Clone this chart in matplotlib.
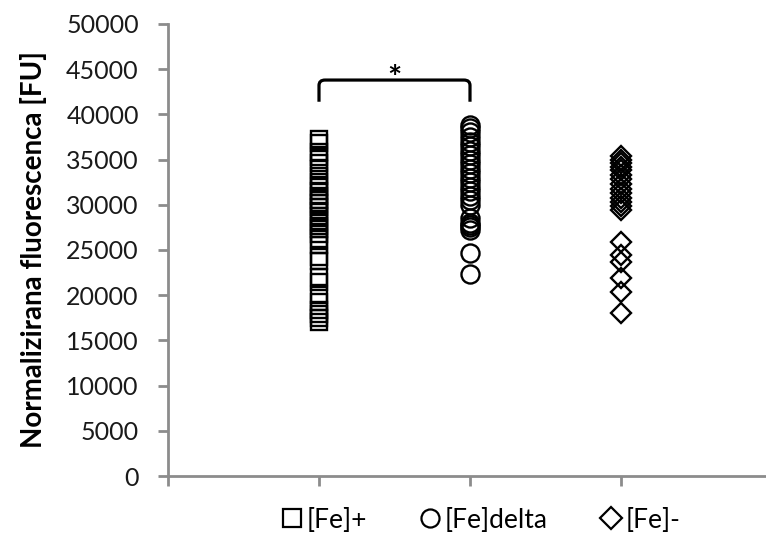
import matplotlib
matplotlib.use("Agg")
import matplotlib.pyplot as plt
from matplotlib.lines import Line2D
from matplotlib.path import Path
from matplotlib.patches import PathPatch

plt.rcParams['font.family'] = ['Lato', 'DejaVu Sans']

groups = ["[Fe]+", "[Fe]delta", "[Fe]-"]
group_pos = [1, 2, 3]

fe_plus = [37300, 36800, 35800, 35300, 34600, 34000, 33200, 32500, 32000, 31500,
           31000, 30500, 30200, 29800, 29300, 28800, 28200, 27600, 27300, 26800,
           26200, 25500, 24200, 23800, 22000, 21500, 20000, 19200, 18400, 17900,
           17500, 17000]
fe_delta = [38800, 38500, 38000, 37500, 37000, 36500, 36000, 35500, 35000, 34500,
            34000, 33500, 33000, 32500, 32000, 31500, 31000, 30500, 30000, 28500,
            28000, 27800, 27500, 27200, 24700, 22400]
fe_minus = [35400, 35000, 34600, 34200, 33800, 33300, 32800, 32300, 31800, 31300,
            30800, 30300, 29900, 29400, 25900, 24400, 23700, 21900, 20400, 18000]

series = [fe_plus, fe_delta, fe_minus]
markers = ["s", "o", "D"]
msizes = [12, 13, 10.5]

y_ticks = list(range(0, 50001, 5000))
sig_pair = (1, 2)
sig_low, sig_high = 41400, 43800

fig = plt.figure(figsize=(7.66, 5.33), dpi=100)
ax = fig.add_axes([168 / 766, 1 - 476 / 533, 604 / 766, 452 / 533])

for pos, vals, m, ms in zip(group_pos, series, markers, msizes):
    ax.plot([pos] * len(vals), vals, linestyle="none", marker=m, markersize=ms,
            markerfacecolor="none", markeredgecolor="black", markeredgewidth=1.7,
            clip_on=False)

# significance bracket with rounded corners
x0, x1 = sig_pair
r = 0.04
rv = 600
verts = [(x0, sig_low), (x0, sig_high - rv), (x0, sig_high), (x0 + r, sig_high),
         (x1 - r, sig_high), (x1, sig_high), (x1, sig_high - rv), (x1, sig_low)]
codes = [Path.MOVETO, Path.LINETO, Path.CURVE3, Path.CURVE3,
         Path.LINETO, Path.CURVE3, Path.CURVE3, Path.LINETO]
ax.add_patch(PathPatch(Path(verts, codes), facecolor="none", edgecolor="black", lw=2.3))
ax.text((x0 + x1) / 2, sig_high - 1500, "*", ha="center", va="bottom", fontsize=24,
        fontweight="bold")

ax.set_xlim(0, 4)
ax.set_ylim(0, 50000)
ax.set_yticks(y_ticks)
ax.set_yticklabels([str(v) for v in y_ticks], fontsize=18, color="#1a1a1a")
ax.set_xticks([0, 1, 2, 3, 4])
ax.set_xticklabels([])

for s in ["top", "right"]:
    ax.spines[s].set_visible(False)
for s in ["left", "bottom"]:
    ax.spines[s].set_color("#8c8c8c")
    ax.spines[s].set_linewidth(2)
ax.tick_params(axis="both", direction="out", length=7, width=2, color="#8c8c8c")
ax.tick_params(axis="y", pad=14)

ax.set_ylabel("Normalizirana fluorescenca [FU]", fontsize=20, fontweight="bold",
              labelpad=14)

handles = [Line2D([], [], linestyle="none", marker=m, markersize=s,
                  markerfacecolor="none", markeredgecolor="black", markeredgewidth=1.6)
           for m, s in zip(markers, [13, 13, 11])]
fig.legend(handles, groups, loc="center", bbox_to_anchor=(481 / 766, 1 - 520 / 533),
           ncol=3, frameon=False, fontsize=19, handlelength=0.8, handletextpad=0.15,
           columnspacing=2.0)

fig.savefig("out.png", dpi=100)
